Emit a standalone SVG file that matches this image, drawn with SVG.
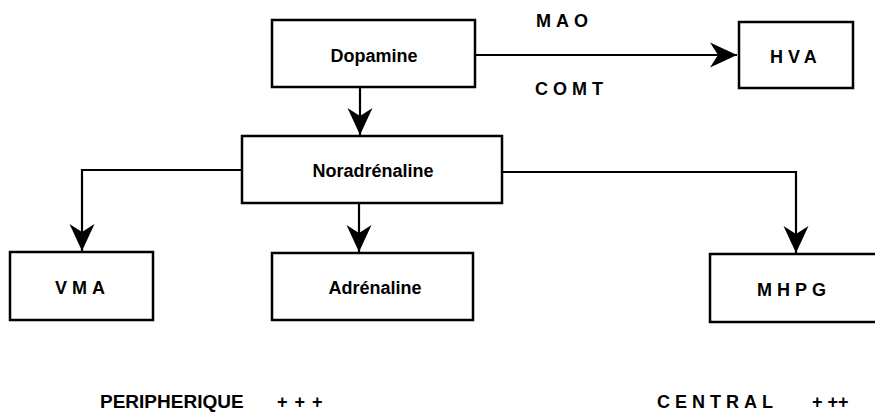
<svg xmlns="http://www.w3.org/2000/svg" width="875" height="414" viewBox="0 0 875 414">
<style>
.box{fill:#fff;stroke:#000;stroke-width:2.5}
.conn{fill:none;stroke:#000;stroke-width:2.2}
.t{font-family:"Liberation Sans",Arial,sans-serif;font-weight:bold;font-size:18px;fill:#000}
.c{text-anchor:middle}
.sp{letter-spacing:5px}
</style>
<defs>
<marker id="ah" markerUnits="userSpaceOnUse" markerWidth="30" markerHeight="30" viewBox="-28 -14 30 28" refX="0" refY="0" orient="auto">
<path d="M0,0 L-27,-12.5 L-19,0 L-27,12.5 Z" fill="#000"/>
</marker>
</defs>
<rect width="875" height="414" fill="#fff"/>
<g id="connectors">
<path class="conn" d="M475,55 H737" marker-end="url(#ah)"/>
<path class="conn" d="M360,87 V135" marker-end="url(#ah)"/>
<path class="conn" d="M242,170 H82 V251" marker-end="url(#ah)"/>
<path class="conn" d="M359,203 V252" marker-end="url(#ah)"/>
<path class="conn" d="M502,172 H796 V253" marker-end="url(#ah)"/>
<text class="t sp" x="536" y="27">MAO</text>
<text class="t sp" x="535" y="95">COMT</text>
</g>
<g id="dopamine">
<rect class="box" x="272" y="20" width="203" height="67"/>
<text class="t c" x="374" y="62">Dopamine</text>
</g>
<g id="hva">
<rect class="box" x="739" y="22" width="114" height="66"/>
<text class="t sp" x="770" y="63">HVA</text>
</g>
<g id="noradrenaline">
<rect class="box" x="242" y="136" width="260" height="67"/>
<text class="t c" x="373" y="177">Noradrénaline</text>
</g>
<g id="vma">
<rect class="box" x="10" y="252" width="143" height="68"/>
<text class="t sp" x="55" y="294">VMA</text>
</g>
<g id="adrenaline">
<rect class="box" x="272" y="253" width="201" height="67"/>
<text class="t c" x="375" y="294">Adrénaline</text>
</g>
<g id="mhpg">
<rect class="box" x="710" y="254" width="180" height="68"/>
<text class="t sp" x="757" y="296">MHPG</text>
</g>
<g id="legend">
<text class="t" x="100" y="408" style="font-size:19px">PERIPHERIQUE</text>
<text class="t" x="277" y="408" style="letter-spacing:7px">+++</text>
<text class="t sp" x="657" y="408">CENTRAL</text>
<text class="t" x="812" y="408">+ ++</text>
</g>
</svg>
